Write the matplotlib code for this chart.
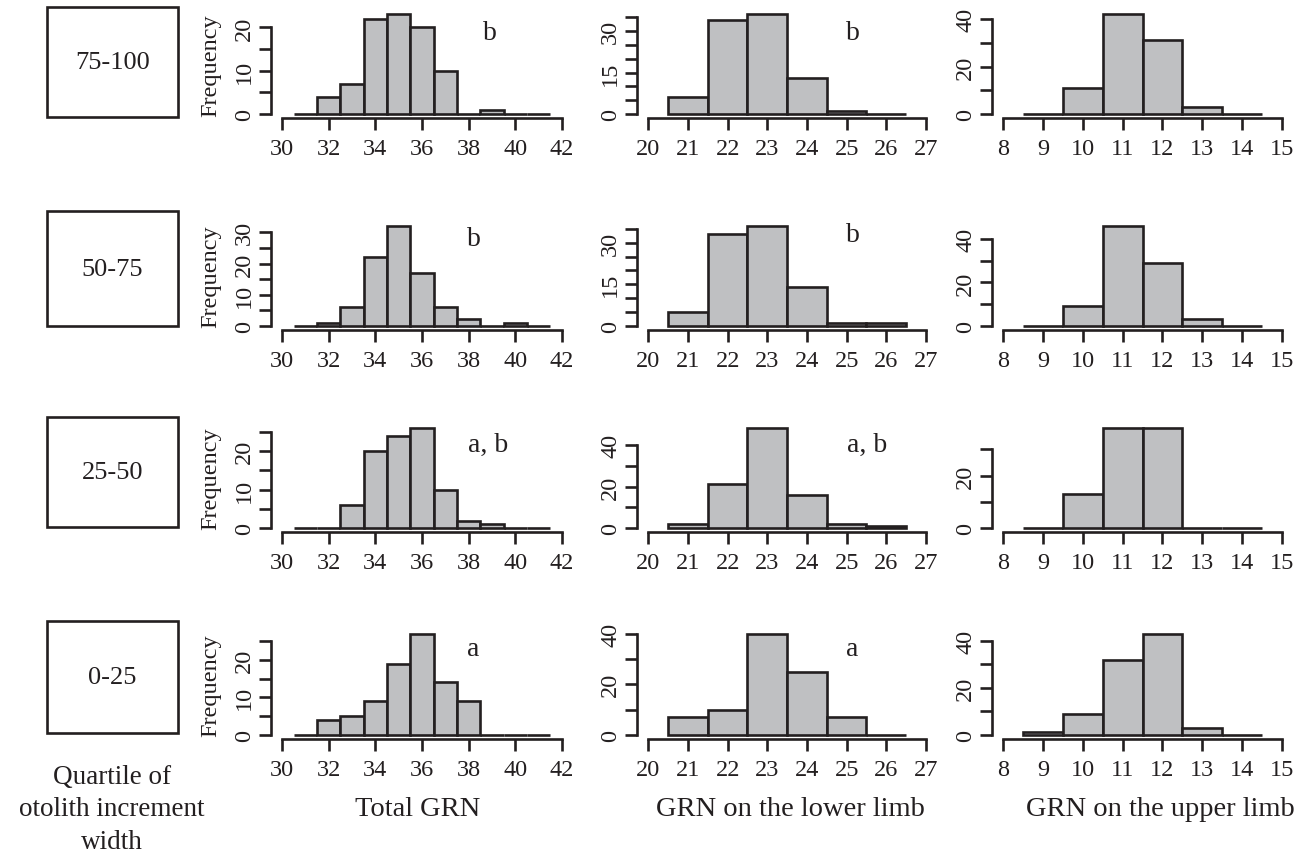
import matplotlib
matplotlib.use("Agg")
import matplotlib.pyplot as plt
import numpy as np

plt.rcParams['font.family'] = ['Liberation Serif', 'DejaVu Serif']

W, H = 1308, 862

quartiles = ['75-100', '50-75', '25-50', '0-25']

total_bins = [31, 32, 33, 34, 35, 36, 37, 38, 39, 40, 41]
total_counts = [
    [0, 4, 7, 22, 23, 20, 10, 0, 1, 0, 0],
    [0, 1, 6, 22, 32, 17, 6, 2, 0, 1, 0],
    [0, 0, 6, 20, 24, 26, 10, 2, 1, 0, 0],
    [0, 4, 5, 9, 19, 27, 14, 9, 0, 0, 0],
]
lower_bins = [21, 22, 23, 24, 25, 26]
lower_counts = [
    [6, 34, 36, 13, 1, 0],
    [5, 33, 36, 14, 1, 1],
    [2, 21, 48, 16, 2, 1],
    [7, 10, 40, 25, 7, 0],
]
upper_bins = [9, 10, 11, 12, 13, 14]
upper_counts = [
    [0, 11, 42, 31, 3, 0],
    [0, 9, 46, 29, 3, 0],
    [0, 13, 38, 38, 0, 0],
    [1, 9, 32, 43, 3, 0],
]
letters_total = ['b', 'b', 'a, b', 'a']
letters_lower = ['b', 'b', 'a, b', 'a']
col_titles = ['Total GRN', 'GRN on the lower limb', 'GRN on the upper limb']
xticks_total = [30, 32, 34, 36, 38, 40, 42]
xticks_lower = [20, 21, 22, 23, 24, 25, 26, 27]
xticks_upper = [8, 9, 10, 11, 12, 13, 14, 15]

# layout (pixels)
row_tops = [11.4, 223.2, 425.0, 631.0]
row_bots = [119.0, 330.7, 533.3, 739.7]
col_lr = [(270.8, 573.0), (637.2, 937.1), (992.2, 1292.8)]
boxes_y = [(8, 118), (212, 327), (418, 528), (622, 734)]

# y tick steps and label strides per panel [row][col]
ystep = [[5, 5, 10], [5, 5, 10], [5, 10, 10], [5, 10, 10]]
ylab_every = [[2, 3, 2], [2, 3, 2], [2, 2, 2], [2, 2, 2]]

letter_pos_total = [(490, 33), (474, 240), (488, 445), (473, 650)]
letter_pos_lower = [(853, 33), (853, 235), (867, 445), (852, 650)]

FILL = '#bfc0c2'
EDGE = '#231f20'
LW = 1.9
FS = 17.5

fig = plt.figure(figsize=(W / 100, H / 100), dpi=100)


def fx(x):
    return x / W


def fy(y):
    return 1 - y / H


cols = [(total_bins, total_counts, xticks_total),
        (lower_bins, lower_counts, xticks_lower),
        (upper_bins, upper_counts, xticks_upper)]

for r in range(4):
    for c in range(3):
        bins, counts, xt = cols[c]
        vals = counts[r]
        l, rr = col_lr[c]
        ax = fig.add_axes([fx(l), fy(row_bots[r]), (rr - l) / W, (row_bots[r] - row_tops[r]) / H])
        ax.patch.set_alpha(0)
        ax.bar(bins, vals, width=1.0, color=FILL, edgecolor=EDGE, linewidth=LW, zorder=3)
        span = xt[-1] - xt[0]
        ax.set_xlim(xt[0] - 0.04 * span, xt[-1] + 0.04 * span)
        ymax = max(vals)
        ax.set_ylim(-0.04 * ymax, 1.04 * ymax)
        step = ystep[r][c]
        yt = np.arange(0, ymax * 1.04 + 1e-9, step)
        ylabels = [str(int(v)) if i % ylab_every[r][c] == 0 else '' for i, v in enumerate(yt)]
        ax.set_yticks(yt)
        ax.set_yticklabels(ylabels, rotation=90, va='center')
        ax.set_xticks(xt)
        ax.set_xticklabels([str(v) for v in xt])
        for s in ['top', 'right']:
            ax.spines[s].set_visible(False)
        ax.spines['left'].set_bounds(0, yt[-1])
        ax.spines['bottom'].set_bounds(xt[0], xt[-1])
        for s in ['left', 'bottom']:
            ax.spines[s].set_linewidth(LW)
            ax.spines[s].set_color(EDGE)
        ax.tick_params(axis='both', direction='out', length=8.5, width=LW, color=EDGE,
                       labelsize=FS, labelcolor=EDGE)
        ax.tick_params(axis='x', pad=6)
        ax.tick_params(axis='y', pad=3)
        if c == 0:
            ax.set_ylabel('Frequency', fontsize=FS, color=EDGE, labelpad=9)

for r in range(4):
    x, y = letter_pos_total[r]
    fig.text(fx(x), fy(y), letters_total[r], fontsize=FS + 2.5, ha='center', va='center', color=EDGE)
    x, y = letter_pos_lower[r]
    fig.text(fx(x), fy(y), letters_lower[r], fontsize=FS + 2.5, ha='center', va='center', color=EDGE)

# quartile boxes
for r in range(4):
    y0, y1 = boxes_y[r]
    rect = plt.Rectangle((fx(47), fy(y1)), (178 - 47) / W, (y1 - y0) / H,
                         transform=fig.transFigure, fill=False, edgecolor=EDGE, linewidth=LW)
    fig.add_artist(rect)
    fig.text(fx(112.5), fy((y0 + y1) / 2), quartiles[r], fontsize=19, ha='center', va='center', color=EDGE)

fig.text(fx(112), fy(810), 'Quartile of\notolith increment\nwidth', fontsize=19.5, ha='center',
         va='center', color=EDGE, linespacing=1.38)

title_x = [418, 790, 1160]
for c in range(3):
    fig.text(fx(title_x[c]), fy(810), col_titles[c], fontsize=20.5, ha='center', va='center', color=EDGE)

fig.savefig('out.png', dpi=100)
